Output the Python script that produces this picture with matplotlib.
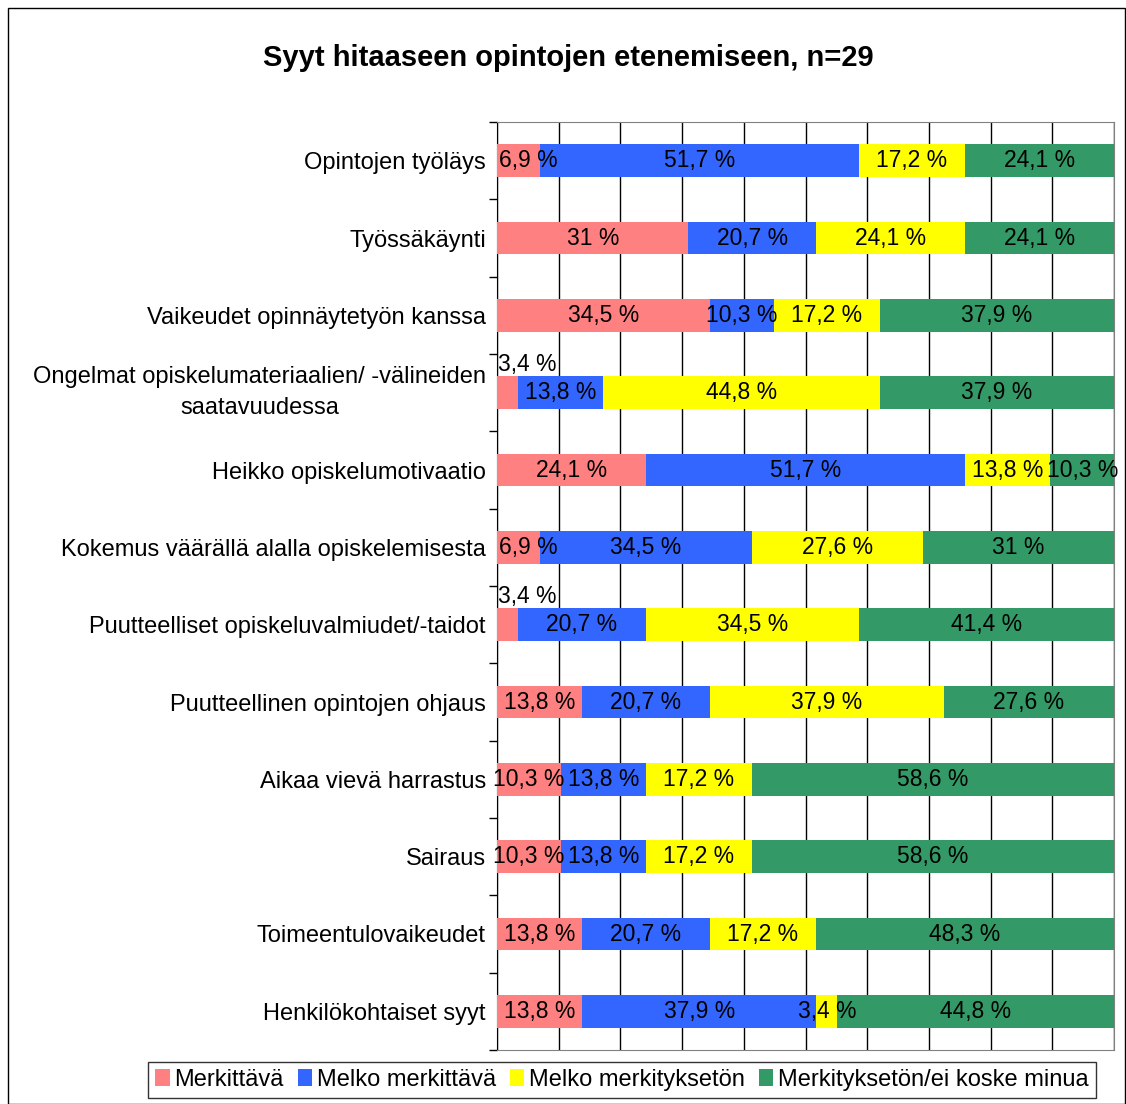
import numpy as np
import matplotlib
matplotlib.use("Agg")
import matplotlib.pyplot as plt
from matplotlib.patches import Patch, Rectangle

plt.rcParams['font.family'] = ['Liberation Sans', 'DejaVu Sans']

categories = [
    "Opintojen työläys",
    "Työssäkäynti",
    "Vaikeudet opinnäytetyön kanssa",
    "Ongelmat opiskelumateriaalien/ -välineiden\nsaatavuudessa",
    "Heikko opiskelumotivaatio",
    "Kokemus väärällä alalla opiskelemisesta",
    "Puutteelliset opiskeluvalmiudet/-taidot",
    "Puutteellinen opintojen ohjaus",
    "Aikaa vievä harrastus",
    "Sairaus",
    "Toimeentulovaikeudet",
    "Henkilökohtaiset syyt",
]
series = ["Merkittävä", "Melko merkittävä", "Melko merkityksetön",
          "Merkityksetön/ei koske minua"]
merkittava = [6.9, 31, 34.5, 3.4, 24.1, 6.9, 3.4, 13.8, 10.3, 10.3, 13.8, 13.8]
melko_merkittava = [51.7, 20.7, 10.3, 13.8, 51.7, 34.5, 20.7, 20.7, 13.8, 13.8, 20.7, 37.9]
melko_merkityksetön = [17.2, 24.1, 17.2, 44.8, 13.8, 27.6, 34.5, 37.9, 17.2, 17.2, 17.2, 3.4]
merkityksetön = [24.1, 24.1, 37.9, 37.9, 10.3, 31, 41.4, 27.6, 58.6, 58.6, 48.3, 44.8]
colors = ["#FF8080", "#3366FF", "#FFFF00", "#339966"]

values = np.array([merkittava, melko_merkittava, melko_merkityksetön, merkityksetön])
shares = values / values.sum(axis=0) * 100  # 100 % stacked like Excel


def fmt(v):
    s = ("%.1f" % v).replace(".", ",")
    if s.endswith(",0"):
        s = s[:-2]
    return s + " %"


fig = plt.figure(figsize=(11.26, 11.04), dpi=100)
ax = fig.add_axes([497 / 1126, 54 / 1104, 617 / 1126, 928 / 1104])

y = np.arange(len(categories))
left = np.zeros(len(categories))
for k in range(4):
    ax.barh(y, shares[k], left=left, height=0.42, color=colors[k],
            edgecolor="none", zorder=3)
    for i in range(len(categories)):
        v = values[k, i]
        if k == 0 and v < 5:
            # tiny segment: label sits above the bar
            ax.text(0.2, i - 0.37, fmt(v), ha="left", va="center",
                    fontsize=16.5, zorder=5)
        elif k == 0 and v < 8:
            # keep label inside the plot area
            ax.text(0.3, i, fmt(v), ha="left", va="center",
                    fontsize=16.5, zorder=5)
        else:
            ax.text(left[i] + shares[k, i] / 2, i, fmt(v), ha="center",
                    va="center", fontsize=16.5, zorder=5)
    left += shares[k]

ax.set_xlim(0, 100)
ax.set_ylim(len(categories) - 0.5, -0.5)
ax.set_xticks(np.arange(0, 101, 10))
ax.tick_params(axis="x", length=0, labelbottom=False)
ax.grid(axis="x", color="black", linewidth=1, zorder=1)

ax.set_yticks(y)
ax.set_yticklabels(categories, fontsize=17)
for lab in ax.get_yticklabels():
    lab.set_multialignment("center")
    lab.set_linespacing(1.55)
    if "\n" in lab.get_text():
        lab.set_va("center")
ax.tick_params(axis="y", which="major", length=0, pad=8)
ax.set_yticks(np.arange(-0.5, len(categories) + 0.5, 1), minor=True)
ax.tick_params(axis="y", which="minor", length=6, direction="out", width=1)

for side in ["top", "right", "bottom"]:
    ax.spines[side].set_color("#808080")
ax.spines["left"].set_color("black")

fig.text(0.505, 1 - 58 / 1104, "Syyt hitaaseen opintojen etenemiseen, n=29",
         ha="center", va="center", fontsize=21, fontweight="bold")

handles = [Patch(facecolor=c, edgecolor="none") for c in colors]
leg = fig.legend(handles, series, loc="center", ncol=4,
                 bbox_to_anchor=(622 / 1126, 1 - 1080 / 1104),
                 fontsize=17, frameon=True, fancybox=False,
                 edgecolor="black", handlelength=0.6, handleheight=0.7,
                 handletextpad=0.2, columnspacing=0.6, borderpad=0.3)
leg.get_frame().set_linewidth(1)

fig.patches.append(Rectangle((8 / 1126, 0), 1 - 9 / 1126, 1 - 8 / 1104,
                             transform=fig.transFigure, fill=False,
                             edgecolor="black", linewidth=1))

fig.savefig("out.png", dpi=100)
